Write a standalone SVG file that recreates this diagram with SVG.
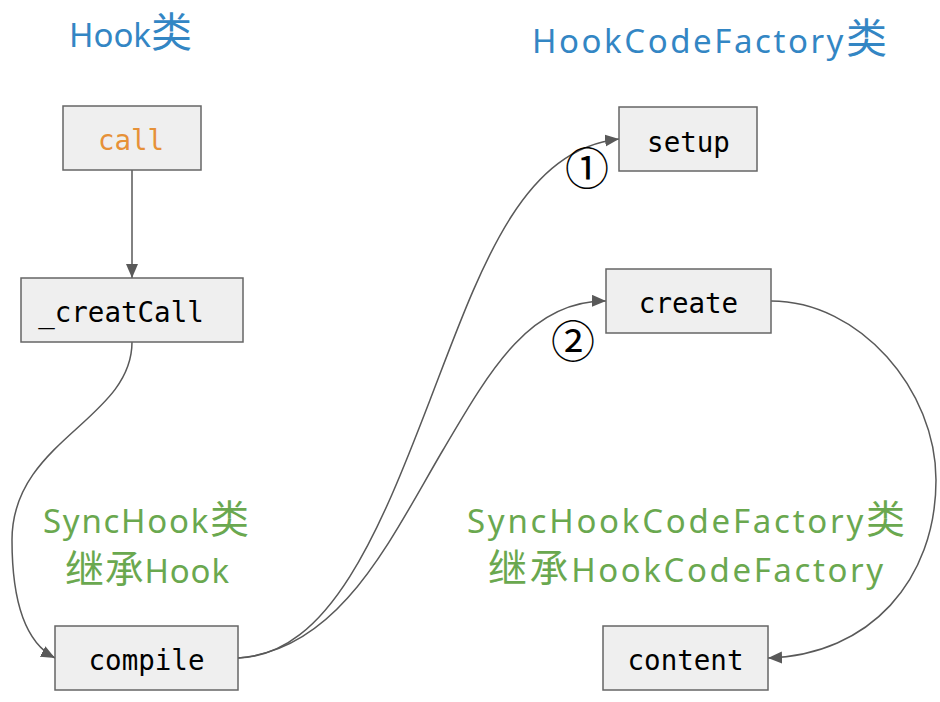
<svg xmlns="http://www.w3.org/2000/svg" width="940" height="702" viewBox="0 0 940 702">
<style>
.box{fill:#efefef;stroke:#666666;stroke-width:1.5}
.lbl{font-family:"DejaVu Sans Mono","Liberation Mono",monospace;font-size:27.5px;fill:#000;text-anchor:middle}
.blue{font-family:"Noto Sans","Noto Sans CJK SC",sans-serif;font-size:33px;fill:#3386c4;text-anchor:middle}
.green{font-family:"Noto Sans","Noto Sans CJK SC",sans-serif;font-size:33px;fill:#6aa84f;text-anchor:middle}
.cjkb{font-size:41px}
.cjkg{font-size:39px}
.num{font-family:"Noto Sans CJK SC",sans-serif;font-size:44px;fill:#000;text-anchor:middle}
.edge{fill:none;stroke:#595959;stroke-width:1.5}
</style>
<defs>
<marker id="arr" markerUnits="userSpaceOnUse" markerWidth="16" markerHeight="14" refX="14" refY="6" orient="auto">
<path d="M0,0 L14,6 L0,12 Z" fill="#595959"/>
</marker>
</defs>
<rect width="940" height="702" fill="#ffffff"/>
<text class="blue" x="130.5" y="47">Hook<tspan class="cjkb">类</tspan></text>
<text class="blue" x="709.5" y="53" textLength="355" lengthAdjust="spacing">HookCodeFactory<tspan class="cjkb">类</tspan></text>
<text class="green" x="146" y="533" textLength="206" lengthAdjust="spacing">SyncHook<tspan class="cjkg">类</tspan></text>
<text class="green" x="147" y="583" textLength="164" lengthAdjust="spacing"><tspan class="cjkg">继承</tspan>Hook</text>
<text class="green" x="686" y="533" textLength="438" lengthAdjust="spacing">SyncHookCodeFactory<tspan class="cjkg">类</tspan></text>
<text class="green" x="685.5" y="582" textLength="395" lengthAdjust="spacing"><tspan class="cjkg">继承</tspan>HookCodeFactory</text>
<g id="connectors">
<path class="edge" d="M132,170 L132,278" marker-end="url(#arr)"/>
<path class="edge" d="M132,342 C132,420 12,440 12,540 C12,610 30,645 55,658" marker-end="url(#arr)"/>
<path class="edge" d="M238,658 C330,655 380,530 430,400 C480,270 520,150 619,139" marker-end="url(#arr)"/>
<path class="edge" d="M238,658 C340,650 390,540 443,450 C490,370 530,300 606,301" marker-end="url(#arr)"/>
<path class="edge" d="M771,301 C860,301 936,390 936,480 C936,580 870,655 768,658" marker-end="url(#arr)"/>
<text class="num" x="587" y="185">①</text>
<text class="num" x="573" y="358">②</text>
</g>
<g id="call"><rect class="box" x="63" y="106" width="138" height="64"/><text class="lbl" x="131" y="150" style="fill:#e69138">call</text></g>
<g id="creatCall"><rect class="box" x="21" y="278" width="222" height="64"/><text class="lbl" x="121" y="322">_creatCall</text></g>
<g id="setup"><rect class="box" x="619" y="107" width="138" height="64"/><text class="lbl" x="688.5" y="152">setup</text></g>
<g id="create"><rect class="box" x="606" y="269" width="165" height="64"/><text class="lbl" x="688.5" y="313">create</text></g>
<g id="compile"><rect class="box" x="55" y="626" width="183" height="64"/><text class="lbl" x="146.5" y="670">compile</text></g>
<g id="content"><rect class="box" x="603" y="626" width="165" height="64"/><text class="lbl" x="685.5" y="670">content</text></g>
</svg>
